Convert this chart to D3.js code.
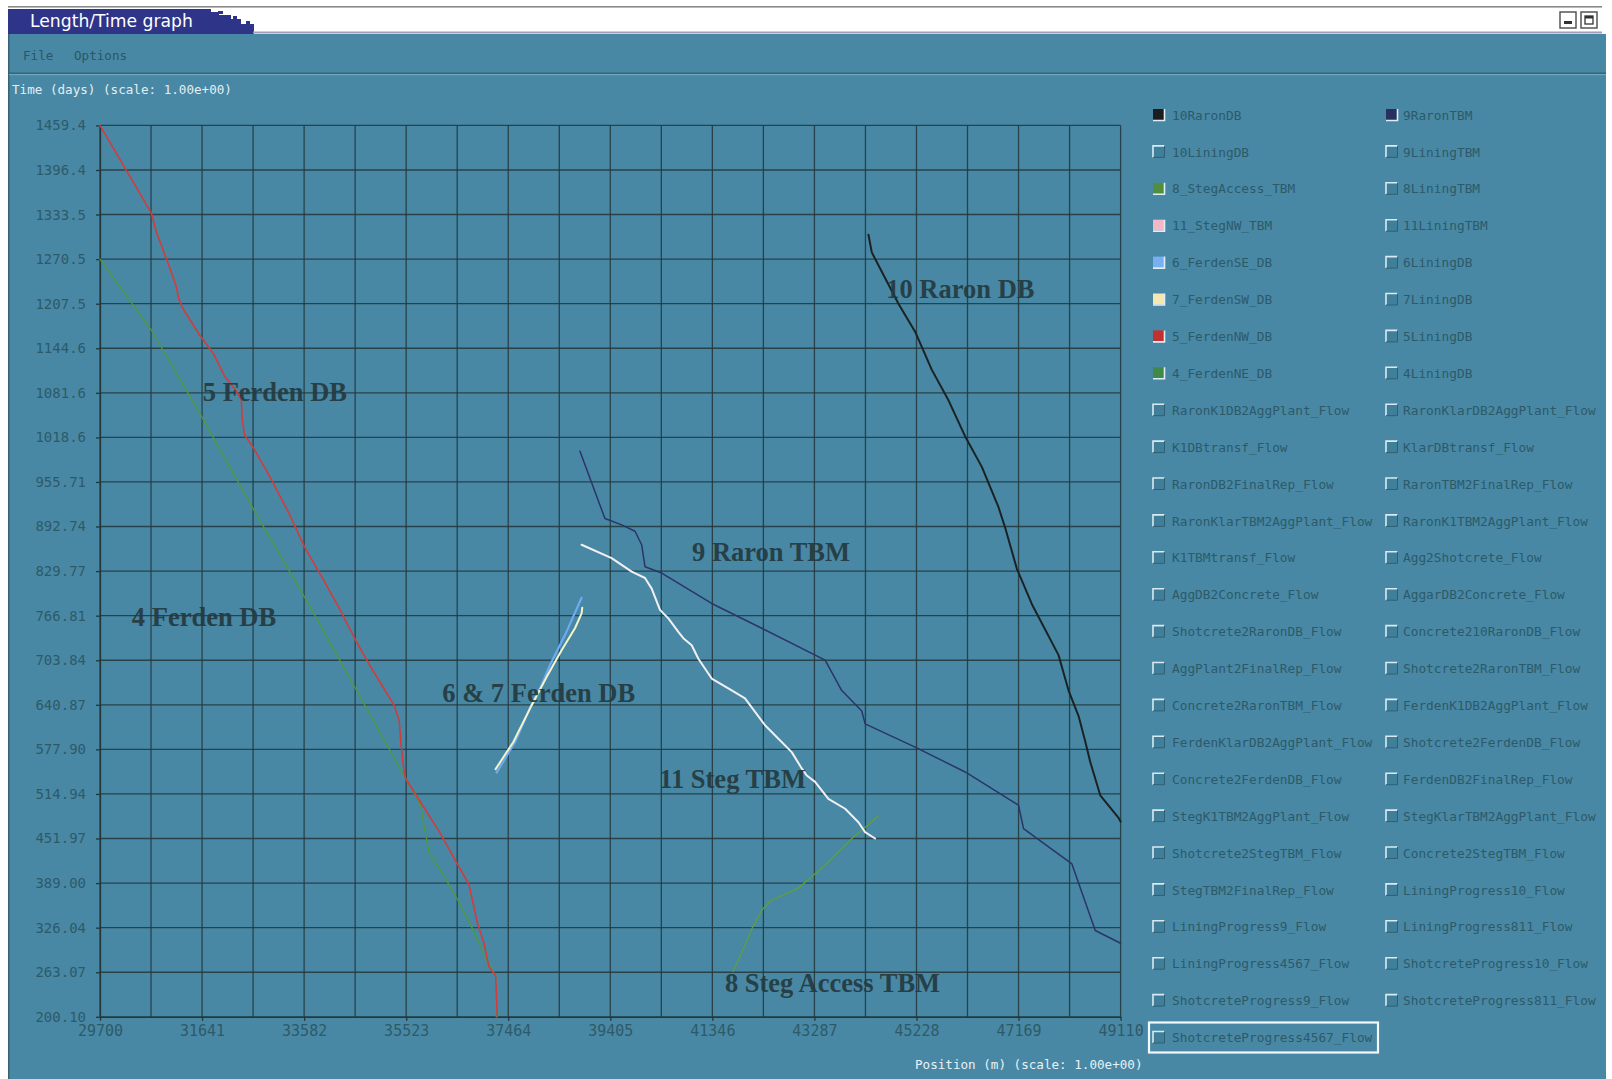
<!DOCTYPE html>
<html><head><meta charset="utf-8">
<script src="https://cdn.jsdelivr.net/npm/d3@7"></script>
<style>
html,body{margin:0;padding:0;background:#fff;overflow:hidden}
svg{display:block}
</style></head><body>
<svg id="c" width="1612" height="1079"></svg>
<script>
// ---------- DATA ----------
const xTicks = [29700, 31641, 33582, 35523, 37464, 39405, 41346, 43287, 45228, 47169, 49110];
const xTickLabels = ["29700","31641","33582","35523","37464","39405","41346","43287","45228","47169","49110"];
const yTicks = [1459.4,1396.4,1333.5,1270.5,1207.5,1144.6,1081.6,1018.6,955.71,892.74,829.77,766.81,703.84,640.87,577.90,514.94,451.97,389.00,326.04,263.07,200.10];
const yTickLabels = ["1459.4","1396.4","1333.5","1270.5","1207.5","1144.6","1081.6","1018.6","955.71","892.74","829.77","766.81","703.84","640.87","577.90","514.94","451.97","389.00","326.04","263.07","200.10"];

// [position (m), time (days)]
const raronDB10 = [[44315,1305],[44378,1280],[44885,1207.5],[45202,1168],[45520,1114],[45837,1071],[46154,1020],[46471,977],[46788,920],[46915,891],[47137,833],[47423,783],[47930,711],[48121,661],[48311,625],[48438,589],[48533,560],[48723,513],[49072,481],[49110,476]];
const raronTBM9 = [[38828,999],[39303,904],[39621,895],[39875,886],[40001,867],[40065,836],[40382,827],[41333,784],[42285,749],[43490,704],[43807,661],[44188,632],[44251,614],[45202,581],[46154,546],[47169,499],[47264,466],[48184,416],[48628,322],[49110,304]];
const stegAccessTBM8 = [[41740,264],[41900,290],[42100,325],[42300,352],[42450,364],[42983,382],[43500,415],[44000,452],[44505,484]];
const stegNWTBM11 = [[38859,867],[39430,848],[39811,829],[40065,820],[40192,805],[40350,775],[40509,763],[40699,744],[40794,735],[40953,725],[41080,706],[41333,678],[41650,664],[41967,650],[42348,612],[42602,593],[42855,574],[43046,551],[43141,541],[43300,532],[43553,508],[43871,494],[44124,475],[44251,461],[44441,452]];
const ferdenSE6 = [[37242,545],[37591,588],[37876,636],[38098,669],[38257,697],[38542,739],[38859,792]];
const ferdenSW7 = [[37223,550],[37559,588],[37908,640],[38193,680],[38479,718],[38733,749],[38859,770],[38872,778]];
const ferdenNW5 = [[29700,1459.4],[30680,1335],[30775,1308],[31028,1258],[31141,1234],[31205,1213],[31281,1200],[31597,1163],[31850,1138],[32071,1105],[32292,1084],[32387,1072],[32406,1043],[32450,1022],[32608,1005],[32924,964],[33304,910],[33588,864],[33936,819],[34252,777],[34568,731],[34884,690],[35295,640],[35390,619],[35422,586],[35485,545],[35517,536],[35833,499],[36149,462],[36528,412],[36718,387],[36876,333],[37002,304],[37097,271],[37224,258],[37255,200.1]];
const ferdenNE4 = [[29700,1270.5],[30670,1171],[31641,1047],[32611,918],[33582,794],[34552,665],[35517,536],[35801,499],[35852,474],[35959,432],[36212,403],[36528,362],[36781,325],[37066,279],[37224,258],[37237,200.1]];

const legendLeft = ["10RaronDB","10LiningDB","8_StegAccess_TBM","11_StegNW_TBM","6_FerdenSE_DB","7_FerdenSW_DB","5_FerdenNW_DB","4_FerdenNE_DB","RaronK1DB2AggPlant_Flow","K1DBtransf_Flow","RaronDB2FinalRep_Flow","RaronKlarTBM2AggPlant_Flow","K1TBMtransf_Flow","AggDB2Concrete_Flow","Shotcrete2RaronDB_Flow","AggPlant2FinalRep_Flow","Concrete2RaronTBM_Flow","FerdenKlarDB2AggPlant_Flow","Concrete2FerdenDB_Flow","StegK1TBM2AggPlant_Flow","Shotcrete2StegTBM_Flow","StegTBM2FinalRep_Flow","LiningProgress9_Flow","LiningProgress4567_Flow","ShotcreteProgress9_Flow","ShotcreteProgress4567_Flow"];
const legendRight = ["9RaronTBM","9LiningTBM","8LiningTBM","11LiningTBM","6LiningDB","7LiningDB","5LiningDB","4LiningDB","RaronKlarDB2AggPlant_Flow","KlarDBtransf_Flow","RaronTBM2FinalRep_Flow","RaronK1TBM2AggPlant_Flow","Agg2Shotcrete_Flow","AggarDB2Concrete_Flow","Concrete210RaronDB_Flow","Shotcrete2RaronTBM_Flow","FerdenK1DB2AggPlant_Flow","Shotcrete2FerdenDB_Flow","FerdenDB2FinalRep_Flow","StegKlarTBM2AggPlant_Flow","Concrete2StegTBM_Flow","LiningProgress10_Flow","LiningProgress811_Flow","ShotcreteProgress10_Flow","ShotcreteProgress811_Flow"];

// annotation labels: text, position (m), time (days)
const annoText = ["5 Ferden DB","4 Ferden DB","10 Raron DB","9 Raron TBM","6 & 7 Ferden DB","11 Steg TBM","8 Steg Access TBM"];
const annoPos  = [31655, 30306, 44653, 40959, 36209, 40334, 41585];
const annoTime = [1083, 765, 1228, 857, 658, 537, 248];

// ---------- STYLE / SERIES ----------
const series = [
  {name:"10RaronDB", data:raronDB10, color:"#1b2224", w:2.0, swatch:"#1a1c1e"},
  {name:"9RaronTBM", data:raronTBM9, color:"#2b3568", w:1.5, swatch:"#27305e"},
  {name:"8_StegAccess_TBM", data:stegAccessTBM8, color:"#5ea03c", w:1.3, swatch:"#4f8f3e"},
  {name:"11_StegNW_TBM", data:stegNWTBM11, color:"#f2f0f2", w:2.0, swatch:"#f2b8c8"},
  {name:"6_FerdenSE_DB", data:ferdenSE6, color:"#6eaaf0", w:2.2, swatch:"#78aef2"},
  {name:"7_FerdenSW_DB", data:ferdenSW7, color:"#f4f4c6", w:2.0, swatch:"#f6e6b0"},
  {name:"5_FerdenNW_DB", data:ferdenNW5, color:"#d23c3c", w:1.6, swatch:"#c43030"},
  {name:"4_FerdenNE_DB", data:ferdenNE4, color:"#4f9a3c", w:1.3, swatch:"#3f8a48"}
];
const swatchOf = {};
series.forEach(s => swatchOf[s.name] = s.swatch);

const TEAL = "#4888a5";
const GRID = "#22383a";
const svg = d3.select("#c");

// ---------- WINDOW CHROME ----------
svg.append("rect").attr("x",0).attr("y",0).attr("width",1612).attr("height",1079).attr("fill","#ffffff");
svg.append("rect").attr("x",8).attr("y",6).attr("width",1594).attr("height",1.6).attr("fill","#8a8a8a");
svg.append("rect").attr("x",8).attr("y",9).attr("width",203).attr("height",25).attr("fill","#2e3488");
[[210,12,9,22],[219,15,12,19],[231,19,10,15],[241,24,13,10],[218,11,5,3],[233,16,4,3],[246,21,4,3]].forEach(r=>{
  svg.append("rect").attr("x",r[0]).attr("y",r[1]).attr("width",r[2]).attr("height",r[3]).attr("fill","#2e3488");
});
svg.append("rect").attr("x",253).attr("y",31.5).attr("width",1349).attr("height",2).attr("fill","#a59cba");
svg.append("text").attr("x",30).attr("y",26.5).attr("fill","#ffffff")
  .style("font-family","'DejaVu Sans', Verdana, sans-serif").style("font-size","17.2px").text("Length/Time graph");
// buttons
[[1560,12],[1581,12]].forEach((b,i)=>{
  svg.append("rect").attr("x",b[0]).attr("y",b[1]).attr("width",16).attr("height",16).attr("fill","#fff").attr("stroke","#555").attr("stroke-width",1.5);
  if(i===0) svg.append("rect").attr("x",b[0]+4).attr("y",b[1]+9).attr("width",8).attr("height",3).attr("fill","#333");
  else { svg.append("rect").attr("x",b[0]+4).attr("y",b[1]+4).attr("width",8).attr("height",8).attr("fill","none").attr("stroke","#333").attr("stroke-width",1.3);
         svg.append("rect").attr("x",b[0]+4).attr("y",b[1]+4).attr("width",8).attr("height",2.5).attr("fill","#333"); }
});

// body
svg.append("rect").attr("x",9).attr("y",34).attr("width",1597).attr("height",1045).attr("fill",TEAL);
svg.append("rect").attr("x",8).attr("y",34).attr("width",1.5).attr("height",1045).attr("fill","#3a6275");
// menu
svg.append("text").attr("x",23).attr("y",60).attr("fill","#2c5664")
  .style("font-family","'DejaVu Sans Mono', monospace").style("font-size","12.6px").text("File");
svg.append("text").attr("x",74).attr("y",60).attr("fill","#2c5664")
  .style("font-family","'DejaVu Sans Mono', monospace").style("font-size","12.6px").text("Options");
svg.append("rect").attr("x",9).attr("y",72.5).attr("width",1597).attr("height",1.3).attr("fill","#2f6276");
svg.append("rect").attr("x",9).attr("y",74).attr("width",1597).attr("height",1.2).attr("fill","#6fa6bd");

svg.append("text").attr("x",12).attr("y",94).attr("fill","#e4eef2")
  .style("font-family","'DejaVu Sans Mono', monospace").style("font-size","12.6px").text("Time (days) (scale: 1.00e+00)");
svg.append("text").attr("x",915).attr("y",1068.5).attr("fill","#e8f1f5")
  .style("font-family","'DejaVu Sans Mono', monospace").style("font-size","12.6px").text("Position (m) (scale: 1.00e+00)");

// ---------- PLOT ----------
const x = d3.scaleLinear().domain([29700, 49110]).range([100, 1120.6]);
const y = d3.scaleLinear().domain([200.1, 1459.4]).range([1016.8, 125.4]);

const xGrid = d3.range(0, 2*(xTicks.length-1)+1).map(i => xTicks[0] + i*(xTicks[1]-xTicks[0])/2);
const g = svg.append("g");
g.selectAll("line.vg").data(xGrid).enter().append("line")
  .attr("x1",d=>x(d)).attr("x2",d=>x(d)).attr("y1",y(1459.4)).attr("y2",y(200.1))
  .attr("stroke",GRID).attr("stroke-width",1.3).attr("opacity",0.85);
g.selectAll("line.hg").data(yTicks).enter().append("line")
  .attr("x1",x(29700)).attr("x2",x(49110)).attr("y1",d=>y(d)).attr("y2",d=>y(d))
  .attr("stroke",GRID).attr("stroke-width",1.3).attr("opacity",0.85);

const yAxis = d3.axisLeft(y).tickValues(yTicks).tickFormat((d,i)=>yTickLabels[i]).tickSizeInner(4).tickSizeOuter(0).tickPadding(10);
const ya = svg.append("g").attr("transform",`translate(${x(29700)},0)`).call(yAxis);
ya.selectAll("path,line").attr("stroke",GRID).attr("stroke-width",1.3);
ya.selectAll("text").attr("fill","#2e5a68").style("font-family","'DejaVu Sans Mono', monospace").style("font-size","14px");

const xAxis = d3.axisBottom(x).tickValues(xTicks).tickFormat((d,i)=>xTickLabels[i]).tickSizeInner(4).tickSizeOuter(0).tickPadding(5);
const xa = svg.append("g").attr("transform",`translate(0,${y(200.1)})`).call(xAxis);
xa.selectAll("path,line").attr("stroke",GRID).attr("stroke-width",1.3);
xa.selectAll("text").attr("fill","#2e5a68").style("font-family","'DejaVu Sans Mono', monospace").style("font-size","15px");

const line = d3.line().x(d=>x(d[0])).y(d=>y(d[1]));
const drawOrder = ["4_FerdenNE_DB","5_FerdenNW_DB","8_StegAccess_TBM","9RaronTBM","10RaronDB","6_FerdenSE_DB","7_FerdenSW_DB","11_StegNW_TBM"];
drawOrder.forEach(n=>{
  const s = series.find(t=>t.name===n);
  svg.append("path").datum(s.data).attr("d",line).attr("fill","none")
    .attr("stroke",s.color).attr("stroke-width",s.w).attr("stroke-linejoin","round").attr("stroke-linecap","round");
});

// annotations
annoText.forEach((t,i)=>{
  svg.append("text").attr("x",x(annoPos[i])).attr("y",y(annoTime[i])).attr("dy","0.35em")
    .attr("fill","#253a40").attr("opacity",0.92)
    .style("font-family","'Liberation Serif','Times New Roman',serif").style("font-weight","bold").style("font-size","26.5px")
    .text(t);
});

// ---------- LEGEND ----------
function legendColumn(names, cbX, txX){
  names.forEach((n,i)=>{
    const cy = 115 + i*36.9;
    const gg = svg.append("g");
    const sw = swatchOf[n];
    if (sw) {
      gg.append("rect").attr("x",cbX).attr("y",cy-6).attr("width",11).attr("height",11).attr("fill",sw);
      gg.append("path").attr("d",`M${cbX+11.5},${cy-6} V${cy+5.5} H${cbX}`).attr("fill","none").attr("stroke","#dfeef5").attr("stroke-width",1.6);
    } else {
      gg.append("rect").attr("x",cbX).attr("y",cy-6).attr("width",11).attr("height",11).attr("fill","#3f7f99");
      gg.append("path").attr("d",`M${cbX},${cy+5.5} V${cy-6} H${cbX+11.5}`).attr("fill","none").attr("stroke","#d9eaf2").attr("stroke-width",1.6);
      gg.append("path").attr("d",`M${cbX+11.5},${cy-6} V${cy+5.5} H${cbX}`).attr("fill","none").attr("stroke","#2e5f73").attr("stroke-width",1);
    }
    gg.append("text").attr("x",txX).attr("y",cy).attr("dy","0.36em").attr("fill","#2d5a69")
      .style("font-family","'DejaVu Sans Mono', monospace").style("font-size","12.8px").text(n);
  });
}
legendColumn(legendLeft, 1153, 1172);
legendColumn(legendRight, 1386, 1403);
// focus box around the last item
svg.append("rect").attr("x",1149).attr("y",115+25*36.9-15).attr("width",229).attr("height",30)
  .attr("fill","none").attr("stroke","#f4f8fa").attr("stroke-width",2.2);
</script></body></html>
